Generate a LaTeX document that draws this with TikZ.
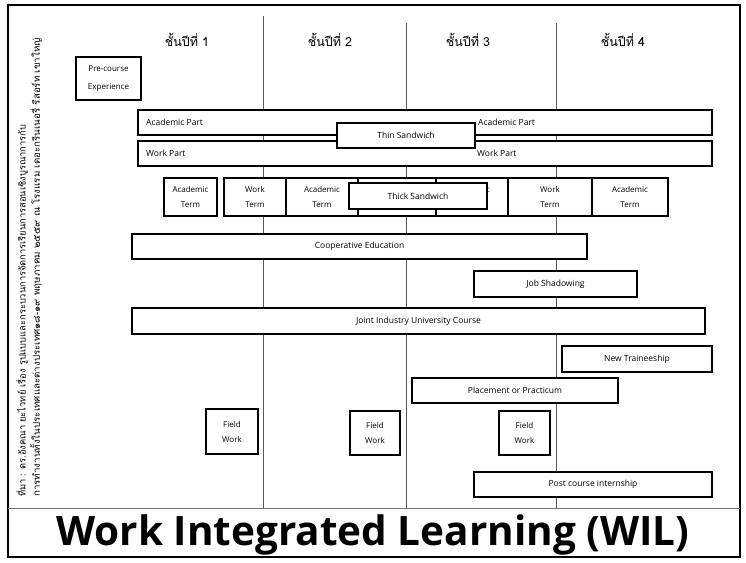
\documentclass[tikz,border=0pt]{standalone}
\usepackage{fontspec}
\setmainfont{Open Sans}
\newfontfamily\thaifont[Script=Thai]{Loma}
\tikzset{
  box/.style={draw, line width=1.4pt, fill=white, inner sep=0pt, align=center,
    font=\fontsize{8.5}{10}\selectfont},
  termbox/.style={box, font=\fontsize{8}{15}\selectfont},
  lbl/.style={inner sep=0pt, font=\fontsize{8.5}{10}\selectfont},
  yearline/.style={draw=black!65, line width=0.8pt},
  yearlbl/.style={inner sep=0pt, font=\thaifont\fontsize{12.5}{14}\selectfont},
  srcnote/.style={inner sep=0pt, rotate=90, anchor=west, font=\thaifont\fontsize{9.3}{10}\selectfont}
}
\begin{document}
\begin{tikzpicture}[x=1pt,y=-1pt]
\useasboundingbox (0,0) rectangle (746,562);
\fill[white] (0,0) rectangle (746,562);
% frame
\draw[line width=2pt] (8,5) rectangle (740,557);
\draw[black!55, line width=0.8pt] (8,508) -- (740,508);
% year dividers
\coordinate (d1t) at (263,16); \coordinate (d1b) at (263,508);
\coordinate (d2t) at (406,23); \coordinate (d2b) at (406,508);
\coordinate (d3t) at (556,23); \coordinate (d3b) at (556,508);
\draw[yearline] (d1t) -- (d1b);
\draw[yearline] (d2t) -- (d2b);
\draw[yearline] (d3t) -- (d3b);
% year labels
\node[yearlbl] (y1) at (187,40) {ชั้นปีที่ 1};
\node[yearlbl] (y2) at (330,40) {ชั้นปีที่ 2};
\node[yearlbl] (y3) at (468,40) {ชั้นปีที่ 3};
\node[yearlbl] (y4) at (623,40) {ชั้นปีที่ 4};
% source note
\node[srcnote] (src1) at (22,497) {ที่มา : ดร.อังคณา ยะไวทย์ เรื่อง รูปแบบและกระบวนการจัดการเรียนการสอนเชิงบูรณาการกับ};
\node[srcnote] (src2) at (36,497) {\scalebox{1.05}[1]{การทำงานทั้งในประเทศและต่างประเทศ๑๘-๑๙ พฤษภาคม ๒๕๕๙ ณ โรงแรม เดอะกรีนเนอรี่ รีสอร์ท เขาใหญ่}};
% pre-course
\node[box, font=\fontsize{8}{18}\selectfont, minimum width=65pt, minimum height=43pt] (pre) at (108.5,78.5) {Pre-course\\Experience};
% academic / work parts
\node[box, minimum width=574pt, minimum height=25pt] (acad) at (425,122.5) {};
\node[lbl, anchor=west] (acadA) at (146,122.5) {Academic Part};
\node[lbl, anchor=west] (acadB) at (478,122.5) {Academic Part};
\node[box, minimum width=574pt, minimum height=25pt] (work) at (425,153.5) {};
\node[lbl, anchor=west] (workA) at (146,153.5) {Work Part};
\node[lbl, anchor=west] (workB) at (477,153.5) {Work Part};
\node[box, minimum width=138pt, minimum height=25pt] (thin) at (406,135.5) {Thin Sandwich};
% terms
\node[termbox, minimum width=53pt, minimum height=38pt] (at1) at (190.5,197) {Academic\\Term};
\node[termbox, minimum width=62pt, minimum height=38pt] (wt1) at (255,197) {Work\\Term};
\node[termbox, minimum width=72pt, minimum height=38pt] (at2) at (322,197) {Academic\\Term};
\node[termbox, minimum width=78pt, minimum height=38pt] (wt2) at (397,197) {};
\node[termbox, minimum width=72pt, minimum height=38pt] (at3) at (472,197) {Academic\\Term};
\node[termbox, minimum width=84pt, minimum height=38pt] (wt3) at (550,197) {Work\\Term};
\node[termbox, minimum width=76pt, minimum height=38pt] (at4) at (630,197) {Academic\\Term};
\node[box, minimum width=138pt, minimum height=26pt] (thick) at (418,196) {Thick Sandwich};
% programmes
\node[box, minimum width=455pt, minimum height=25pt] (coop) at (359.5,246.5) {Cooperative Education};
\node[box, minimum width=163pt, minimum height=26pt] (job) at (555.5,284) {Job Shadowing};
\node[box, minimum width=573pt, minimum height=26pt] (joint) at (418.5,321) {Joint Industry University Course};
\node[box, minimum width=150pt, minimum height=26pt] (newt) at (637,359) {New Traineeship};
\node[box, minimum width=206pt, minimum height=25pt] (place) at (515,390.5) {Placement or Practicum};
\node[termbox, minimum width=52pt, minimum height=45pt] (fw1) at (232,431.5) {Field\\Work};
\node[termbox, minimum width=50pt, minimum height=44pt] (fw2) at (375,433) {Field\\Work};
\node[termbox, minimum width=51pt, minimum height=44pt] (fw3) at (524.5,433) {Field\\Work};
\node[box, minimum width=238pt, minimum height=25pt] (post) at (593,484.5) {Post course internship};
% title
\node[inner sep=0pt, font=\bfseries\fontsize{40.5}{44}\selectfont] (title) at (373,535) {Work Integrated Learning (WIL)};
\end{tikzpicture}
\end{document}
